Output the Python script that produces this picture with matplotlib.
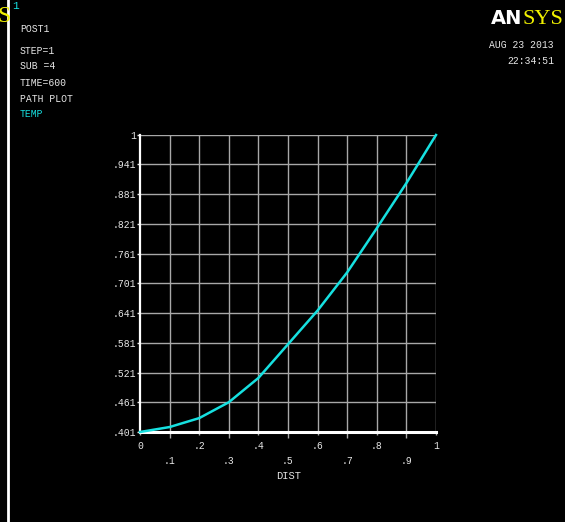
#   ANSYS POST1 path plot of TEMP along DIST
import numpy as np
import matplotlib
matplotlib.use("Agg")
import matplotlib.pyplot as plt

# data
dist = [0.0, 0.1, 0.2, 0.3, 0.4, 0.5, 0.6, 0.7, 0.8, 0.9, 1.0]
temp = [0.401, 0.411, 0.429, 0.461, 0.510, 0.578, 0.646, 0.723, 0.812, 0.903, 1.0]

yticks = [0.401, 0.461, 0.521, 0.581, 0.641, 0.701, 0.761, 0.821, 0.881, 0.941, 1.0]
ylabels = [".401", ".461", ".521", ".581", ".641", ".701", ".761", ".821", ".881", ".941", "1"]
xmajor = [0, 0.2, 0.4, 0.6, 0.8, 1.0]
xmajor_lab = ["0", ".2", ".4", ".6", ".8", "1"]
xminor = [0.1, 0.3, 0.5, 0.7, 0.9]
xminor_lab = [".1", ".3", ".5", ".7", ".9"]

info = ["POST1", "STEP=1", "SUB =4", "TIME=600", "PATH PLOT", "TEMP"]
info_y = [29, 51, 66, 83, 99, 114]

W, H = 565, 522
txtcol = "#e6e6e6"
gridcol = "#a8a8a8"
cyan = "#16e0e0"
mono = "Liberation Mono"

fig = plt.figure(figsize=(W / 100, H / 100), dpi=100, facecolor="black")

def fx(px):
    return px / W

def fy(py):
    return 1 - py / H

ax = fig.add_axes([fx(140), fy(432), fx(436) - fx(140), fy(135) - fy(432)])
ax.set_facecolor("black")
ax.set_xlim(0, 1)
ax.set_ylim(0.401, 1.0)

# grid
for v in yticks[1:]:
    ax.axhline(v, color=gridcol, lw=1.0, zorder=1)
for v in xmajor[1:] + xminor:
    ax.axvline(v, color=gridcol, lw=1.0, zorder=1)

for s in ["top", "right"]:
    ax.spines[s].set_visible(False)
ax.spines["left"].set_color("white")
ax.spines["left"].set_linewidth(1.6)
ax.spines["bottom"].set_color("white")
ax.spines["bottom"].set_linewidth(2.2)

ax.plot(dist, temp, color=cyan, lw=1.8, zorder=3, clip_on=False)

ax.set_yticks(yticks, ylabels)
ax.set_xticks(xmajor, xmajor_lab)
ax.set_xticks(xminor, xminor_lab, minor=True)
ax.tick_params(axis="y", colors=txtcol, length=2, width=1, pad=1, labelsize=7)
ax.tick_params(axis="x", which="major", colors=gridcol, labelcolor=txtcol,
               length=2.5, width=1, pad=4, labelsize=7)
ax.tick_params(axis="x", which="minor", colors=gridcol, labelcolor=txtcol,
               length=4.5, width=1, pad=12.5, labelsize=7)
for lab in ax.get_xticklabels(which="both") + ax.get_yticklabels():
    lab.set_family(mono)

fig.text(fx(289), fy(476), "DIST", color=txtcol, family=mono, fontsize=7.5,
         ha="center", va="center")

# header text
fig.text(fx(12), fy(6), "1", color=cyan, family=mono, fontsize=8, va="center")
for t, yy in zip(info, info_y):
    c = cyan if t == "TEMP" else txtcol
    fig.text(fx(20), fy(yy), t, color=c, family=mono, fontsize=7, va="center")

fig.text(fx(554), fy(45), "AUG 23 2013", color=txtcol, family=mono, fontsize=7,
         ha="right", va="center")
fig.text(fx(554), fy(61), "22:34:51", color=txtcol, family=mono, fontsize=7,
         ha="right", va="center")

# logo
fig.text(fx(522), fy(19), "AN", color="white", family="DejaVu Sans", fontsize=14,
         fontweight="bold", va="center", ha="right")
fig.text(fx(563), fy(19), "SYS", color="#f0f000", family="Liberation Serif",
         fontsize=16, va="center", ha="right")
fig.text(fx(-3), fy(16), "S", color="#f0f000", family="Liberation Serif",
         fontsize=17, va="center", ha="left")

# white window border on the left
fig.add_artist(plt.Line2D([fx(8), fx(8)], [0, 1], color="white", lw=2,
                          transform=fig.transFigure))

fig.savefig("out.png", dpi=100, facecolor="black")
